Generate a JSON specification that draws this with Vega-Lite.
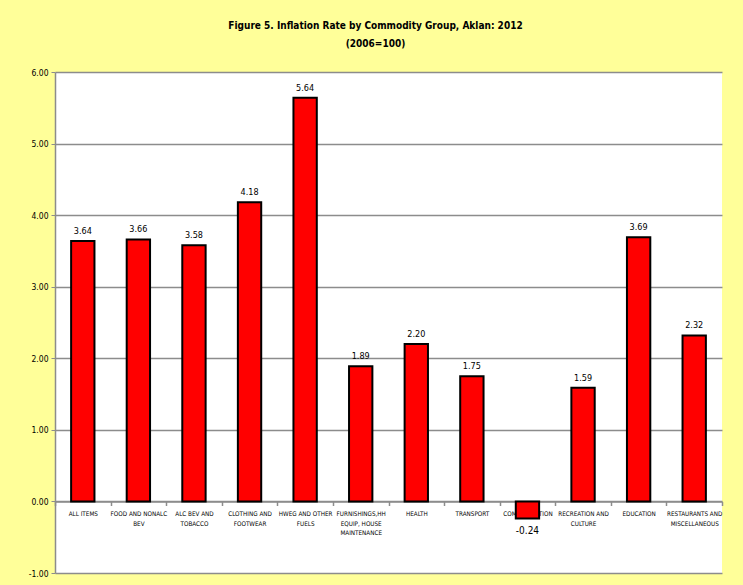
{
  "$schema": "https://vega.github.io/schema/vega-lite/v6.json",
  "autosize": {"type": "none"},
  "width": 667,
  "height": 501,
  "padding": {"left": 55, "top": 72, "right": 21, "bottom": 12},
  "background": "#FFFF99",
  "config": {
    "view": {"fill": "white", "stroke": null},
    "font": "DejaVu Sans Condensed, Liberation Sans Narrow, sans-serif",
    "locale": {"number": {"decimal": ".", "thousands": ",", "grouping": [3], "currency": ["$", ""], "minus": "-"}}
  },
  "title": {
    "text": ["Figure 5. Inflation Rate by Commodity Group, Aklan: 2012", "(2006=100)"],
    "font": "DejaVu Sans Condensed, Liberation Sans Narrow, sans-serif",
    "fontSize": 10,
    "fontWeight": "bold",
    "color": "black",
    "lineHeight": 18,
    "offset": 19,
    "anchor": "middle",
    "dx": -13
  },
  "data": {
    "values": [
      {"group": "ALL ITEMS", "value": 3.64},
      {"group": "FOOD AND NONALC|BEV", "value": 3.66},
      {"group": "ALC BEV AND|TOBACCO", "value": 3.58},
      {"group": "CLOTHING AND|FOOTWEAR", "value": 4.18},
      {"group": "HWEG AND OTHER|FUELS", "value": 5.64},
      {"group": "FURNISHINGS,HH|EQUIP, HOUSE|MAINTENANCE", "value": 1.89},
      {"group": "HEALTH", "value": 2.20},
      {"group": "TRANSPORT", "value": 1.75},
      {"group": "COMMUNICATION", "value": -0.24},
      {"group": "RECREATION AND|CULTURE", "value": 1.59},
      {"group": "EDUCATION", "value": 3.69},
      {"group": "RESTAURANTS AND|MISCELLANEOUS", "value": 2.32}
    ]
  },
  "encoding": {
    "x": {
      "field": "group",
      "type": "nominal",
      "sort": null,
      "scale": {"paddingInner": 0, "paddingOuter": 0},
      "axis": {
        "title": null,
        "labelAngle": 0,
        "labelExpr": "split(datum.label, '|')",
        "labelFontSize": 6.3,
        "labelLineHeight": 9.5,
        "labelColor": "black",
        "labelPadding": 5,
        "labelBaseline": "top",
        "tickBand": "extent",
        "tickColor": "#8c8c8c",
        "tickSize": 4,
        "tickWidth": 1.5,
        "ticks": true,
        "domainColor": "#8c8c8c",
        "domainWidth": 1.5,
        "offset": -71.5,
        "grid": false,
        "labelLimit": 0
      }
    },
    "y": {
      "field": "value",
      "type": "quantitative",
      "scale": {"domain": [-1, 6], "nice": false},
      "axis": {
        "title": null,
        "values": [-1, 0, 1, 2, 3, 4, 5, 6],
        "format": ".2f",
        "labelFontSize": 8.5,
        "labelColor": "black",
        "labelPadding": 3,
        "tickSize": 4,
        "tickColor": "#8c8c8c",
        "domainColor": "#8c8c8c",
        "domainWidth": 1.5,
        "gridColor": "#8c8c8c",
        "gridWidth": 1.5
      }
    }
  },
  "layer": [
    {
      "mark": {"type": "bar", "width": {"band": 0.42}, "fill": "#FF0000", "stroke": "black", "strokeWidth": 2}
    },
    {
      "transform": [{"filter": "datum.value >= 0"}],
      "mark": {"type": "text", "baseline": "bottom", "dy": -5, "fontSize": 9, "color": "black"},
      "encoding": {"text": {"field": "value", "type": "quantitative", "format": ".2f"}}
    },
    {
      "transform": [{"filter": "datum.value < 0"}],
      "mark": {"type": "text", "baseline": "top", "dy": 7, "fontSize": 10, "color": "black"},
      "encoding": {"text": {"field": "value", "type": "quantitative", "format": ".2f"}}
    }
  ]
}
